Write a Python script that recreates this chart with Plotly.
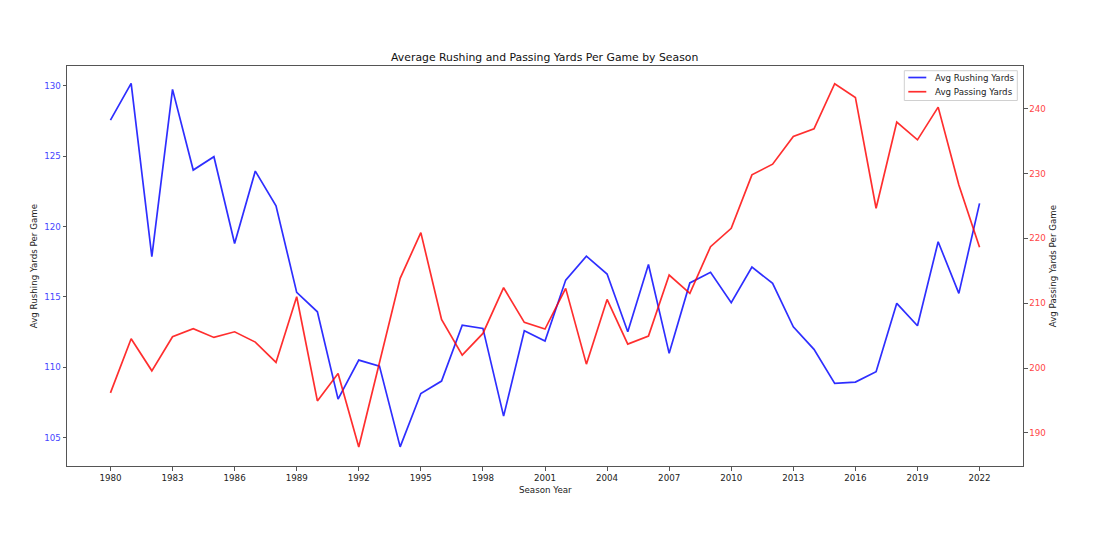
import plotly.graph_objects as go

years = list(range(1980, 2023))
rushing = [127.56, 130.17, 117.86, 129.74, 124.01, 124.96, 118.8, 123.94, 121.48, 115.33,
           113.95, 107.75, 110.52, 110.09, 104.36, 108.15, 109.03, 113.0, 112.77, 106.54,
           112.6, 111.87, 116.2, 117.9, 116.63, 112.53, 117.31, 111.0, 116.0, 116.75,
           114.59, 117.12, 115.97, 112.88, 111.28, 108.86, 108.96, 109.69, 114.55, 112.96,
           118.92, 115.26, 121.65]
passing = [196.18, 204.52, 199.58, 204.83, 206.07, 204.73, 205.6, 204.01, 200.87, 211.01,
           194.94, 199.17, 187.84, 200.9, 213.85, 220.9, 207.51, 202.0, 205.35, 212.4,
           207.05, 206.02, 212.3, 200.61, 210.6, 203.7, 204.94, 214.36, 211.53, 218.73,
           221.57, 229.81, 231.46, 235.72, 236.91, 243.86, 241.75, 224.66, 237.94, 235.21,
           240.26, 228.26, 218.64]
series_names = ["Avg Rushing Yards", "Avg Passing Yards"]
x_ticks = list(range(1980, 2023, 3))
left_ticks = [105, 110, 115, 120, 125, 130]
right_ticks = [190, 200, 210, 220, 230, 240]

FONT = "DejaVu Sans"
OFF = 8  # body margin of the html page
W, H = 1110, 526
# target plot area in page pixels
PX0, PX1, PY0, PY1 = 66.7, 1022.7, 66.0, 465.7
L = PX0 - OFF
T = PY0 - OFF
R = W - (PX1 - OFF)
B = H - (PY1 - OFF)
PW, PH = PX1 - PX0, PY1 - PY0


def px(x):
    return (x - PX0) / PW


def py(y):
    return (PY1 - y) / PH


BLUE = "rgba(0,0,255,0.82)"
RED = "rgba(255,0,0,0.82)"

fig = go.Figure()
fig.add_trace(go.Scatter(x=years, y=rushing, mode="lines", name=series_names[0],
                         line=dict(color=BLUE, width=1.7), yaxis="y"))
fig.add_trace(go.Scatter(x=years, y=passing, mode="lines", name=series_names[1],
                         line=dict(color=RED, width=1.7), yaxis="y2"))

axis_common = dict(showgrid=False, zeroline=False, showline=True, linecolor="#555",
                   linewidth=1, ticks="outside", ticklen=3.5, tickcolor="#555", tickwidth=1)

fig.update_layout(
    width=W, height=H,
    margin=dict(l=L, r=R, t=T, b=B, pad=0),
    paper_bgcolor="white", plot_bgcolor="white",
    font=dict(family=FONT, size=8.7, color="#222"),
    title=dict(text="Average Rushing and Passing Yards Per Game by Season",
               x=(L + (W - R)) / 2 / W, xanchor="center",
               y=1 - (57 - OFF) / H, yanchor="middle", yref="container",
               font=dict(family=FONT, size=10.85, color="#111")),
    xaxis=dict(range=[1977.9, 2024.1], tickmode="array", tickvals=x_ticks,
               ticktext=[str(v) for v in x_ticks], mirror=True,
               tickfont=dict(size=8.7, color="#222"), **axis_common),
    yaxis=dict(range=[103.0, 131.4], tickmode="array", tickvals=left_ticks,
               tickfont=dict(size=8.7, color="rgb(70,70,255)"), **axis_common),
    yaxis2=dict(range=[184.9, 246.6], tickmode="array", tickvals=right_ticks,
                overlaying="y", side="right",
                tickfont=dict(size=8.7, color="rgb(255,70,70)"), **axis_common),
    showlegend=False,
)

fig.add_annotation(text="Season Year", xref="paper", yref="paper",
                   x=0.5, y=py(489.3), yanchor="middle",
                   showarrow=False, font=dict(size=8.7, color="#222"))
fig.add_annotation(text="Avg Rushing Yards Per Game", xref="paper", yref="paper",
                   x=px(34), y=0.5, xanchor="center", textangle=-90,
                   showarrow=False, font=dict(size=8.7, color="#222"))
fig.add_annotation(text="Avg Passing Yards Per Game", xref="paper", yref="paper",
                   x=px(1053), y=0.5, xanchor="center", textangle=-90,
                   showarrow=False, font=dict(size=8.7, color="#222"))

# legend box (drawn as in the reference)
fig.add_shape(type="rect", xref="paper", yref="paper",
              x0=px(904), x1=px(1017), y0=py(100.5), y1=py(70.7),
              line=dict(color="#d0d0d0", width=1), fillcolor="rgba(255,255,255,0.85)")
for i, (name, col) in enumerate(zip(series_names, [BLUE, RED])):
    yy = 77.5 + 14.2 * i
    fig.add_shape(type="line", xref="paper", yref="paper",
                  x0=px(908), x1=px(926), y0=py(yy), y1=py(yy),
                  line=dict(color=col, width=1.7))
    fig.add_annotation(text=name, xref="paper", yref="paper",
                       x=px(933), y=py(yy), xanchor="left", yanchor="middle",
                       showarrow=False, font=dict(size=8.7, color="#222"))

fig.write_html("out.html")
